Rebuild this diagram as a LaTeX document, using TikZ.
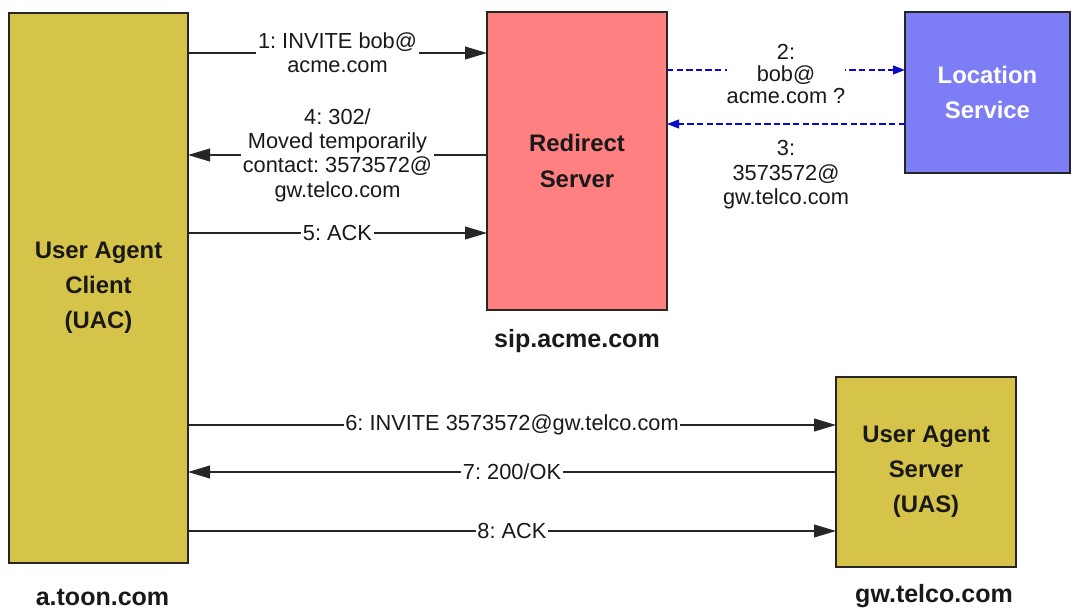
\documentclass[tikz,border=0pt]{standalone}
\usepackage{fontspec}
\setmainfont{Liberation Sans}
\usepackage{tikz}
\usetikzlibrary{positioning,arrows.meta}
\frenchspacing
\definecolor{uaolive}{RGB}{214,196,74}
\definecolor{redirpink}{RGB}{255,128,128}
\definecolor{locblue}{RGB}{125,125,245}
\definecolor{qblue}{RGB}{10,10,205}
\newcommand{\boxfont}{\fontsize{17}{25}\selectfont\bfseries}
\newcommand{\msgfont}{\fontsize{15.5}{17.3}\selectfont}
\tikzstyle{box}=[draw=black!85, line width=1.1pt, anchor=north west, align=center, inner sep=0pt, outer sep=0pt, font=\boxfont, text=black!90]
\tikzstyle{host}=[anchor=base, font=\fontsize{17.8}{20}\selectfont\bfseries, text=black!90]
\tikzstyle{msg}=[-{Triangle[length=0.55cm,width=0.32cm]}, line width=1pt, black!85]
\tikzstyle{query}=[-{Triangle[length=0.3cm,width=0.22cm]}, line width=1.1pt, qblue, dash pattern=on 0.16cm off 0.08cm]
\tikzstyle{lbl}=[fill=white, inner xsep=0.04cm, inner ysep=0.02cm, align=center, text=black!90, font=\msgfont]

\begin{document}
\begin{tikzpicture}
\useasboundingbox (0,0) rectangle (26.95,-15.25);

% boxes
\node[box, fill=uaolive, minimum width=4.475cm, minimum height=13.75cm] at (0.225,-0.325) (uac) {User Agent\\Client\\(UAC)};
\node[box, fill=redirpink, minimum width=4.5cm, minimum height=7.45cm] at (12.175,-0.3) (redirect) {Redirect\\Server};
\node[box, fill=locblue, text=white, minimum width=4.125cm, minimum height=4.025cm] at (22.625,-0.3) (loc) {Location\\Service};
\node[box, fill=uaolive, minimum width=4.5cm, minimum height=4.75cm] at (20.9,-9.425) (uas) {User Agent\\Server\\(UAS)};

% host names
\node[host] at ([xshift=0.1cm, yshift=-1.05cm]uac.south) (uachost) {a.toon.com};
\node[host] at ([yshift=-0.95cm]redirect.south) (redirhost) {sip.acme.com};
\node[host] at ([xshift=0.2cm, yshift=-0.875cm]uas.south) (uashost) {gw.telco.com};

% message points
\coordinate (m1) at ([yshift=-1cm]uac.north east);
\coordinate (m4) at ([yshift=-3.55cm]uac.north east);
\coordinate (m5) at ([yshift=-5.5cm]uac.north east);
\coordinate (m2) at ([yshift=-1.45cm]redirect.north east);
\coordinate (m3) at ([yshift=-2.8cm]redirect.north east);
\coordinate (m6) at ([yshift=-1.2cm]uas.north west);
\coordinate (m7) at ([yshift=-2.375cm]uas.north west);
\coordinate (m8) at ([yshift=-3.85cm]uas.north west);

\draw[msg] (m1) -- node[lbl] {1: INVITE bob@\\acme.com} (m1 -| redirect.west);
\draw[query] (m2) -- node[lbl, inner xsep=0pt, yshift=-0.1cm, font=\fontsize{15.5}{16}\selectfont] {2:\\bob@\\acme.com ?} (m2 -| loc.west);
\draw[query] (m3 -| loc.west) -- node[lbl, below=0.38cm] {3:\\3573572@\\gw.telco.com} (m3);
\draw[msg] (m4 -| redirect.west) -- node[lbl] {4: 302/\\Moved temporarily\\contact: 3573572@\\gw.telco.com} (m4);
\draw[msg] (m5) -- node[lbl] {5: ACK} (m5 -| redirect.west);

\draw[msg] (m6 -| uac.east) -- node[lbl] {6: INVITE 3573572@gw.telco.com} (m6);
\draw[msg] (m7) -- node[lbl] {7: 200/OK} (m7 -| uac.east);
\draw[msg] (m8 -| uac.east) -- node[lbl] {8: ACK} (m8);
\end{tikzpicture}
\end{document}
